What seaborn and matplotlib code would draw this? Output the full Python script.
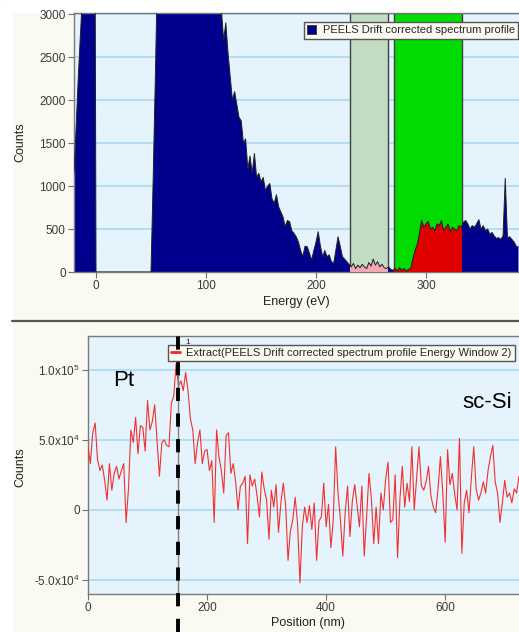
import numpy as np
import pandas as pd
import seaborn as sns
import matplotlib
matplotlib.use('Agg')
from matplotlib import pyplot as plt
from matplotlib.patches import Rectangle, Patch
from matplotlib.lines import Line2D

sns.set_theme(style='ticks')
plt.rcParams['font.family'] = ['Liberation Sans', 'DejaVu Sans']
plt.rcParams['mathtext.default'] = 'regular'

# ---- top panel: spectrum, 2 eV channels starting at -20 eV
counts = [
    1150, 1700, 2300, 2800, 3300, 4000, 5000, 6500, 8000, 9000,   # -20 .. -2
    0, 0, 0, 0, 0, 0, 0, 0, 0, 0,                                 # 0 .. 18
    0, 0, 0, 0, 0, 0, 0, 0, 0, 0,                                 # 20 .. 38
    0, 0, 0, 0, 0, 0, 1100, 2300, 3600, 4500,                     # 40 .. 58
    5600, 6800, 7900, 8800, 9500, 9900, 9800, 9400, 8900, 8300,   # 60 .. 78
    7700, 7100, 6500, 6000, 5500, 5100, 4800, 4500, 4200, 3950,   # 80 .. 98
    3750, 3600, 3450, 3350, 3250, 3200, 3150, 3050, 2700, 2900,   # 100 .. 118
    2550, 2270, 2000, 2100, 1950, 1800, 1760, 1500, 1550, 1200,   # 120 .. 138
    1350, 1150, 1380, 1100, 1150, 1050, 1100, 950, 1000, 1030,    # 140 .. 158
    850, 800, 900, 760, 700, 640, 530, 600, 585, 480,             # 160 .. 178
    450, 410, 350, 250, 180, 300, 294, 220, 140, 250,             # 180 .. 198
    350, 469, 300, 178, 250, 178, 200, 120, 100, 250,             # 200 .. 218
    410, 300, 178, 150, 120, 90, 60, 100, 40, 80,                 # 220 .. 238
    50, 90, 60, 40, 110, 70, 150, 80, 120, 60,                    # 240 .. 258
    90, 50, 40, 60, 30, 20, 40, 10, 50, 20,                       # 260 .. 278
    40, 10, 30, 40, 150, 250, 320, 450, 600, 520,                 # 280 .. 298
    560, 590, 500, 520, 480, 560, 540, 600, 480, 520,             # 300 .. 318
    560, 470, 520, 500, 480, 540, 520, 580, 600, 560,             # 320 .. 338
    500, 540, 520, 560, 610, 500, 540, 480, 500, 440,             # 340 .. 358
    460, 420, 390, 400, 380, 420, 1090, 400, 410, 380,            # 360 .. 378
    350, 300, 290,                                                # 380 .. 384
]
energy = np.arange(-20, -20 + 2 * len(counts), 2)

window_bg  = (231, 265)     # background window
window_sig = (271, 333)     # signal window (Energy Window 2)

# ---- bottom panel: extracted profile, 4 nm steps, units of 1e4 counts
profile = [
    4.5, 3.3, 5.5, 6.2, 3.6, 2.8, 3.2, 2.1, 0.7, 3.3,      # 0 .. 36
    1.4, 2.6, 3.1, 2.2, 2.8, 3.3, -0.9, 1.5, 5.7, 4.8,     # 40 .. 76
    6.6, 4.0, 6.0, 5.9, 4.2, 7.8, 5.7, 6.3, 7.5, 5.0,      # 80 .. 116
    2.4, 4.8, 5.0, 4.6, 4.5, 7.6, 8.1, 10.4, 8.8, 9.2,     # 120 .. 156
    8.5, 9.8, 8.5, 6.5, 5.7, 3.3, 4.8, 5.7, 3.3, 4.2,      # 160 .. 196
    4.3, 2.8, 3.5, -0.9, 5.7, 3.8, 2.8, 1.2, 5.3, 5.5,     # 200 .. 236
    2.6, 3.3, 2.0, 0.0, 1.7, 1.9, 2.4, -2.4, 2.5, 1.7,     # 240 .. 276
    2.2, 1.0, -0.5, 2.7, 1.5, 0.7, -2.1, 1.4, 0.2, 1.8,    # 280 .. 316
    -1.6, 0.5, 1.9, 0.3, -3.6, -1.5, -0.7, 0.9, -1.0, -5.2,  # 320 .. 356
    -1.2, 0.2, -0.9, 0.3, -1.4, 0.5, -3.6, -0.8, -0.5, 1.9,  # 360 .. 396
    -1.2, 0.4, -2.7, -0.7, 4.5, 1.2, -0.7, -3.3, -0.2, 1.7,  # 400 .. 436
    -1.9, 0.6, 1.8, 0.3, -1.2, 1.7, -3.3, -0.5, 2.6, 0.8,    # 440 .. 476
    -2.4, 0.2, -2.4, 1.2, 0.0, 2.2, 3.4, -0.9, -0.7, 2.5,    # 480 .. 516
    -3.4, 0.8, 3.1, 0.2, 1.9, 0.6, 4.5, 0.0, 2.2, 4.5,       # 520 .. 556
    1.7, 1.4, 2.0, 3.1, 1.0, 0.2, -0.2, 1.5, 3.8, 1.2,       # 560 .. 596
    -2.3, 4.3, 1.8, 2.6, 1.1, 0.0, 5.1, -3.1, 0.5, 1.4,      # 600 .. 636
    -0.2, 2.3, 4.5, 1.5, 0.7, 1.2, 2.0, 1.2, 2.8, 3.8,       # 640 .. 676
    4.6, 2.0, 1.2, -0.9, 0.5, 2.1, 0.9, 1.2, 0.5, 1.5,       # 680 .. 716
    1.2, 2.4,                                                # 720 .. 724
]
position = np.arange(0, 4 * len(profile), 4)
marker_nm = 152

df_top = pd.DataFrame({'E': energy, 'C': counts})
df_bot = pd.DataFrame({'X': position, 'Y': np.array(profile) * 1e4})

NAVY, CREAM, AXBG, GRID = '#00008C', '#FAFAF2', '#E4F3FC', '#A6D7EF'
W, H = 519, 632

fig = plt.figure(figsize=(W / 100, H / 100), dpi=100, facecolor=CREAM)
fig.patches.append(Rectangle((0, 0), 12 / W, 1, transform=fig.transFigure,
                             color='white', zorder=-5))
fig.patches.append(Rectangle((0, 1 - 12 / H), 1, 12 / H, transform=fig.transFigure,
                             color='white', zorder=-5))
fig.add_artist(Line2D([12 / W, 1], [1 - 321 / H] * 2, color='#585858', lw=1.6))

ax1 = fig.add_axes([74 / W, 1 - 272 / H, 1 - 74 / W, (272 - 13) / H])
ax2 = fig.add_axes([88 / W, 1 - 594 / H, 1 - 88 / W, (594 - 336) / H])

for ax in (ax1, ax2):
    ax.set_facecolor(AXBG)
    ax.set_axisbelow(True)
    ax.yaxis.grid(True, color=GRID, lw=1.1)
    ax.xaxis.grid(False)
    for s in ('left', 'top', 'bottom'):
        ax.spines[s].set_color('#7a7a7a')
        ax.spines[s].set_linewidth(1.0)
    ax.spines['right'].set_visible(False)
    ax.tick_params(direction='out', length=4, width=0.8, color='#707070',
                   labelsize=8.5, labelcolor='#3a3a3a', pad=2)

# ---- top: spectrum with energy windows
ax1.axvspan(*window_bg, facecolor='#C3DDC3', edgecolor='#404040', lw=1, zorder=1)
ax1.axvspan(*window_sig, facecolor='#00DC00', edgecolor='#404040', lw=1, zorder=1)
ax1.fill_between(df_top['E'], 0, df_top['C'], color=NAVY, lw=0, zorder=2)
for (lo, hi), col in ((window_bg, '#F3A9B4'), (window_sig, '#E00000')):
    f = ax1.fill_between(df_top['E'], 0, df_top['C'], color=col, lw=0, zorder=3)
    f.set_clip_path(Rectangle((lo, 0), hi - lo, 5000, transform=ax1.transData))
sns.lineplot(data=df_top, x='E', y='C', ax=ax1, color='#222222', lw=0.7, zorder=4)
ax1.set_xlim(-20, 384.5)
ax1.set_ylim(0, 3015)
ax1.set_xticks([0, 100, 200, 300])
ax1.set_yticks(range(0, 3001, 500))
ax1.set_xlabel('Energy (eV)', fontsize=9, color='#222222')
ax1.set_ylabel('Counts', fontsize=9, color='#222222')
ax1.xaxis.set_label_coords(0.5, -0.093)
ax1.yaxis.set_label_coords(-0.106, 0.5)
ax1.legend(handles=[Patch(facecolor=NAVY, edgecolor='#222222', lw=0.5)],
           labels=['PEELS Drift corrected spectrum profile'],
           loc='upper right', bbox_to_anchor=(0.998, 0.966), borderaxespad=0,
           fontsize=8, fancybox=False, edgecolor='#555555', facecolor=CREAM,
           framealpha=1, handlelength=0.8, handleheight=0.8, handletextpad=0.6,
           borderpad=0.3)

# ---- bottom: extracted profile
sns.lineplot(data=df_bot, x='X', y='Y', ax=ax2, color='#F23030', lw=0.8, zorder=3)
ax2.set_xlim(0, 724)
ax2.set_ylim(-6.0e4, 1.24e5)
ax2.set_xticks([0, 200, 400, 600])
ax2.set_yticks([-5e4, 0, 5e4, 1e5])
ax2.set_yticklabels(['-5.0x10$^{4}$', '0', '5.0x10$^{4}$', '1.0x10$^{5}$'])
ax2.set_xlabel('Position (nm)', fontsize=9, color='#222222')
ax2.set_ylabel('Counts', fontsize=9, color='#222222')
ax2.xaxis.set_label_coords(0.51, -0.089)
ax2.yaxis.set_label_coords(-0.142, 0.49)

trans = ax2.get_xaxis_transform()
ax2.axvline(marker_nm, color='#808080', lw=1, zorder=4)
ax2.plot([marker_nm, marker_nm], [-0.147, 1.043], transform=trans, clip_on=False,
         color='black', lw=2.8, dashes=(3.4, 3.2), zorder=6)
ax2.text(163, 0.968, '1', transform=trans, fontsize=6, color='#222222', zorder=7)
ax2.text(42, 8.8e4, 'Pt', fontsize=16, color='black', zorder=5)
ax2.text(628, 7.3e4, 'sc-Si', fontsize=16, color='black', zorder=5)
ax2.legend(handles=[Line2D([], [], color='#F22828', lw=2)],
           labels=['Extract(PEELS Drift corrected spectrum profile Energy Window 2)'],
           loc='upper left', bbox_to_anchor=(0.186, 0.966), borderaxespad=0,
           fontsize=8, fancybox=False, edgecolor='#555555', facecolor=CREAM,
           framealpha=1, handlelength=0.8, handletextpad=0.5, borderpad=0.3)

fig.savefig('out.png', dpi=100, facecolor=fig.get_facecolor())
